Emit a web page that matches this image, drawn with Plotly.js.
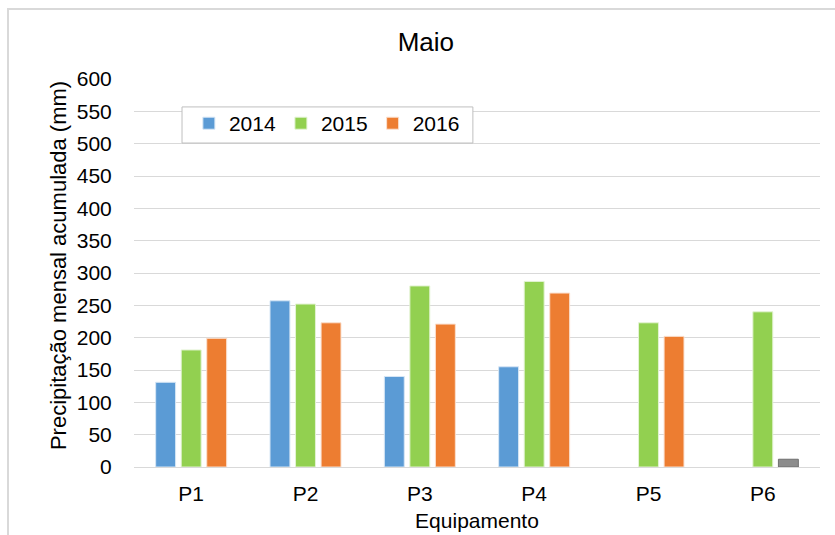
<!DOCTYPE html>
<html>
<head>
<meta charset="utf-8">
<script src="https://cdn.plot.ly/plotly-3.0.1.min.js"></script>
<style>
  html, body { margin: 0; padding: 0; background: #fff; }
  #wrap { position: relative; width: 835px; height: 535px; overflow: hidden; }
  #chart { width: 835px; height: 535px; }
  #frame { position: absolute; left: 7px; top: 8px; width: 900px; height: 600px;
           border: 2px solid #d9d9d9; pointer-events: none; box-sizing: border-box; }
</style>
</head>
<body>
<div id="wrap">
  <div id="chart"></div>
  <div id="frame"></div>
</div>
<script>
const categories = ["P1", "P2", "P3", "P4", "P5", "P6"];
const v2014 = [131, 257, 140, 155, null, null];
const v2015 = [181, 252, 280, 287, 223, 240];
const v2016 = [199, 223, 221, 269, 202, 12];
const yTicks = [0, 50, 100, 150, 200, 250, 300, 350, 400, 450, 500, 550, 600];

const FONT = "Liberation Sans, Arial, sans-serif";
const orangeColors = categories.map((c, i) => i === 5 ? "#8c8c8c" : "#ED7D31");
const orangeLines = categories.map((c, i) => i === 5 ? "#6f6f6f" : "#fbe0cf");

const traces = [
  { type: "bar", name: "2014", x: categories, y: v2014,
    marker: { color: "#5B9BD5", line: { color: "#d6e6f5", width: 1 } } },
  { type: "bar", name: "2015", x: categories, y: v2015,
    marker: { color: "#92D050", line: { color: "#e3f3d3", width: 1 } } },
  { type: "bar", name: "2016", x: categories, y: v2016,
    marker: { color: orangeColors, line: { color: orangeLines, width: 1 } } }
];

const layout = {
  width: 835, height: 535,
  paper_bgcolor: "#ffffff", plot_bgcolor: "#ffffff",
  font: { family: FONT, size: 21, color: "#000000" },
  margin: { l: 134, r: 15, t: 79, b: 68 },
  title: { text: "Maio", font: { family: FONT, size: 26, color: "#000" },
           x: 0.51, xanchor: "center", y: 0.922, yanchor: "middle" },
  barmode: "group", bargap: 0.33, bargroupgap: 0.22,
  showlegend: true,
  legend: { orientation: "h", x: 0.080, y: 0.938, xanchor: "left", yanchor: "top",
            bgcolor: "rgba(0,0,0,0)", borderwidth: 0,
            font: { family: FONT, size: 21, color: "#000" },
            itemwidth: 30, traceorder: "normal" },
  shapes: [
    { type: "rect", xref: "paper", yref: "paper", x0: 0.070, x1: 0.494, y0: 0.835, y1: 0.928,
      line: { color: "#bfbfbf", width: 1 }, fillcolor: "#ffffff", layer: "above" }
  ],
  annotations: [
    { text: "Precipitação mensal acumulada (mm)", xref: "paper", yref: "paper",
      x: -0.111, y: 0.52, xanchor: "center", yanchor: "middle", textangle: -90,
      showarrow: false, font: { family: FONT, size: 22, color: "#000" } }
  ],
  xaxis: {
    type: "category", tickvals: categories, ticktext: categories,
    showgrid: false, showline: false, zeroline: false,
    ticks: "outside", ticklen: 8, tickcolor: "rgba(0,0,0,0)",
    tickfont: { family: FONT, size: 21, color: "#000" },
    title: { text: "Equipamento", font: { family: FONT, size: 21, color: "#000" }, standoff: 9 }
  },
  yaxis: {
    range: [0, 600], tickvals: yTicks, ticktext: yTicks.map(String),
    showgrid: true, gridcolor: "#d9d9d9", gridwidth: 1,
    zeroline: true, zerolinecolor: "#d9d9d9", zerolinewidth: 1,
    showline: false,
    ticks: "outside", ticklen: 17, tickcolor: "rgba(0,0,0,0)",
    tickfont: { family: FONT, size: 21, color: "#000" }
  }
};

Plotly.newPlot("chart", traces, layout, { displayModeBar: false, staticPlot: true });
</script>
</body>
</html>
